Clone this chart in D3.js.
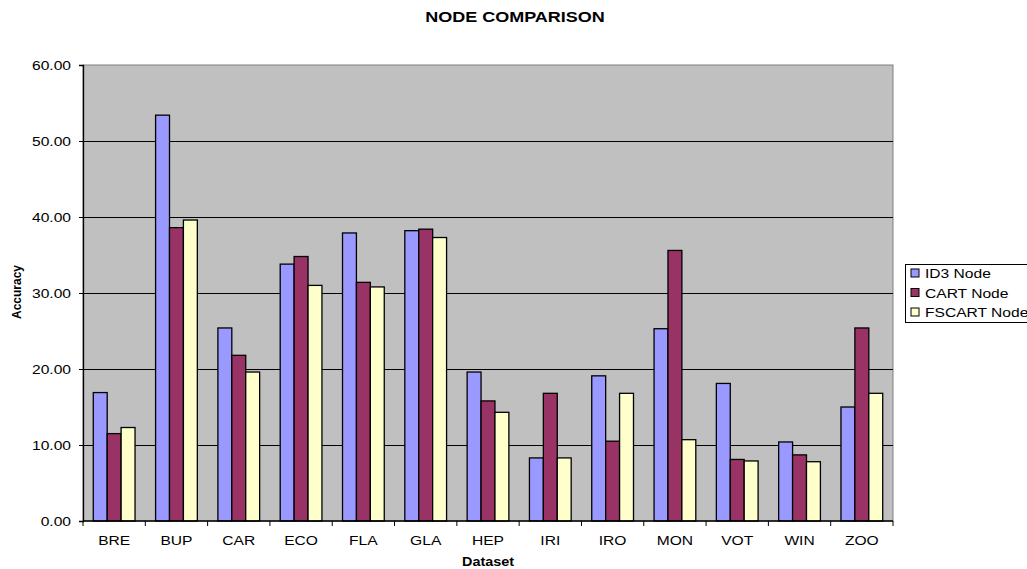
<!DOCTYPE html>
<html>
<head>
<meta charset="UTF-8">
<title>Node Comparison</title>
<script src="https://cdn.jsdelivr.net/npm/d3@7"></script>
<style>
  body { margin: 0; background: #fff; }
  svg { font-family: Arial, "Liberation Sans", sans-serif; }
</style>
</head>
<body>
<div id="app"></div>
<script>
// data
var datasets = ["BRE","BUP","CAR","ECO","FLA","GLA","HEP","IRI","IRO","MON","VOT","WIN","ZOO"];
var seriesNames = ["ID3 Node","CART Node","FSCART Node"];
var id3Node    = [16.9, 53.4, 25.4, 33.8, 37.9, 38.2, 19.6, 8.3, 19.1, 25.3, 18.1, 10.4, 15.0];
var cartNode   = [11.5, 38.6, 21.8, 34.8, 31.4, 38.4, 15.8, 16.8, 10.5, 35.6, 8.1, 8.7, 25.4];
var fscartNode = [12.3, 39.6, 19.6, 31.0, 30.8, 37.3, 14.3, 8.3, 16.8, 10.7, 7.9, 7.8, 16.8];
var yTicks = [0, 10, 20, 30, 40, 50, 60];
var colors = ["#9999ff", "#993366", "#ffffcc"];

var W = 1027, H = 569;
var m = {left: 83, top: 65, right: 134, bottom: 48};
var pw = W - m.left - m.right, ph = H - m.top - m.bottom;
var SX = 1.2; // the original text looks stretched sideways

var svg = d3.select("#app").append("svg").attr("width", W).attr("height", H);

var x = d3.scaleBand().domain(datasets).range([m.left, m.left + pw])
    .paddingInner(0.33).paddingOuter(0.165);
var xs = d3.scaleBand().domain(d3.range(3)).range([0, x.bandwidth()]);
var y = d3.scaleLinear().domain([0, 60]).range([m.top + ph, m.top]);

function label(g, px, py, txt, size, bold, anchor) {
    return g.append("text")
        .attr("transform", "translate(" + px + "," + py + ") scale(" + SX + ",1)")
        .attr("text-anchor", anchor || "middle")
        .attr("font-size", size)
        .attr("font-weight", bold ? "bold" : "normal")
        .text(txt);
}

// plot area
svg.append("rect").attr("x", m.left).attr("y", m.top).attr("width", pw).attr("height", ph)
    .attr("fill", "#c0c0c0").attr("stroke", "#808080").attr("stroke-width", 1);

// gridlines
svg.append("g").selectAll("line").data(yTicks.slice(1, -1)).enter().append("line")
    .attr("x1", m.left).attr("x2", m.left + pw)
    .attr("y1", function(d){ return Math.round(y(d)) + 0.5; })
    .attr("y2", function(d){ return Math.round(y(d)) + 0.5; })
    .attr("stroke", "#000").attr("stroke-width", 1);

// bars
var rows = datasets.map(function(d, i){ return [id3Node[i], cartNode[i], fscartNode[i]]; });
var groups = svg.append("g").selectAll("g").data(rows).enter().append("g")
    .attr("transform", function(d, i){ return "translate(" + x(datasets[i]) + ",0)"; });
groups.selectAll("rect").data(function(d){ return d; }).enter().append("rect")
    .attr("x", function(d, j){ return xs(j); })
    .attr("y", function(d){ return y(d); })
    .attr("width", xs.bandwidth())
    .attr("height", function(d){ return y(0) - y(d); })
    .attr("fill", function(d, j){ return colors[j]; })
    .attr("stroke", "#000").attr("stroke-width", 1.3);

// y axis
var yAxis = d3.axisLeft(y).tickValues(yTicks).tickSize(4).tickPadding(6)
    .tickFormat(d3.format(".2f"));
var gy = svg.append("g").attr("transform", "translate(" + m.left + ",0)").call(yAxis);
gy.select(".domain").attr("stroke", "#000").attr("stroke-width", 1.3);
gy.selectAll(".tick line").attr("stroke", "#000");
gy.selectAll("text").attr("font-size", 13).attr("fill", "#000")
    .attr("transform", "scale(" + SX + ",1)")
    .style("font-family", "Arial, 'Liberation Sans', sans-serif");

// x axis: ticks at category boundaries
var gx = svg.append("g").attr("transform", "translate(0," + (m.top + ph) + ")");
gx.append("line").attr("x1", m.left).attr("x2", m.left + pw).attr("stroke", "#000").attr("stroke-width", 1.3);
var step = x.step();
gx.selectAll(".tk").data(d3.range(datasets.length + 1)).enter().append("line")
    .attr("x1", function(i){ return m.left + i * step; })
    .attr("x2", function(i){ return m.left + i * step; })
    .attr("y1", 0).attr("y2", 5).attr("stroke", "#000");
datasets.forEach(function(d){
    label(gx, x(d) + x.bandwidth() / 2, 24, d, 13, false);
});

// titles
label(svg, 515, 22, "NODE COMPARISON", 15, true);
label(svg, 488, 566, "Dataset", 12, true);
svg.append("text").attr("transform", "translate(21,292) rotate(-90) scale(1,1)").attr("text-anchor", "middle")
    .attr("font-size", 12).attr("font-weight", "bold").text("Accuracy");

// legend
var lg = svg.append("g").attr("transform", "translate(905,264)");
lg.append("rect").attr("x", 0.5).attr("y", 0.5).attr("width", 130).attr("height", 58)
    .attr("fill", "#fff").attr("stroke", "#000");
var li = lg.selectAll(".li").data(seriesNames).enter().append("g")
    .attr("transform", function(d, i){ return "translate(6," + (5 + i * 19.5) + ")"; });
li.append("rect").attr("width", 8).attr("height", 8)
    .attr("fill", function(d, i){ return colors[i]; }).attr("stroke", "#000");
li.each(function(d){ label(d3.select(this), 14, 9, d, 13, false, "start"); });
</script>
</body>
</html>
